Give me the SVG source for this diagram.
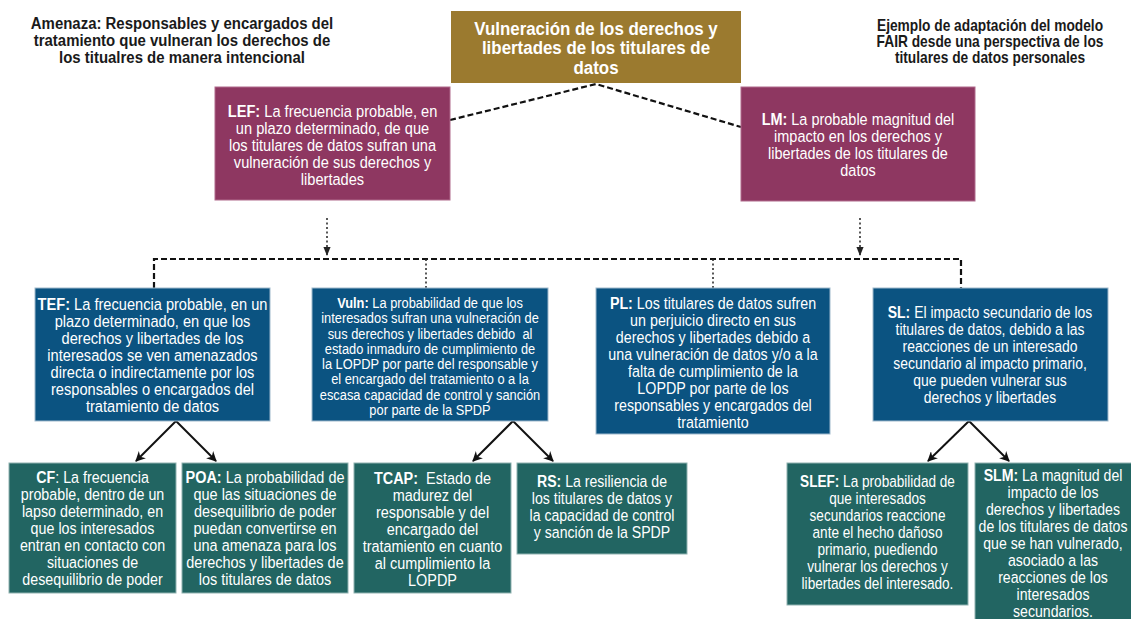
<svg xmlns="http://www.w3.org/2000/svg" width="1131" height="619" viewBox="0 0 1131 619">
<defs>
<style>
text{font-family:"Liberation Sans Narrow","Liberation Sans",sans-serif;text-anchor:middle;}
.w{fill:#fff;}
.k{fill:#1a1a1a;font-weight:bold;}
.b{font-weight:bold;}
.gold{fill:#9b7a2f;}
.mar{fill:#8e3761;stroke:#b06a8c;stroke-width:1;}
.blue{fill:#0b5381;stroke:#9fb9cc;stroke-width:1;}
.teal{fill:#226562;stroke:#8fb2b0;stroke-width:1;}
.dash{fill:none;stroke:#111;stroke-width:2.2;stroke-dasharray:6 3;}
.dot{fill:none;stroke:#222;stroke-width:1.5;stroke-dasharray:2 2.5;}
.sol{fill:none;stroke:#111;stroke-width:2;marker-end:url(#ah);}
</style>
<marker id="ah" viewBox="0 0 10 10" refX="9" refY="5" markerWidth="5" markerHeight="5" orient="auto">
<path d="M0,0 L10,5 L0,10 L3,5 Z" fill="#111"/>
</marker>
<marker id="ahs" viewBox="0 0 10 10" refX="9" refY="5" markerWidth="6" markerHeight="6" orient="auto">
<path d="M0,1 L10,5 L0,9 Z" fill="#222"/>
</marker>
</defs>
<rect width="1131" height="619" fill="#fff"/>

<g id="connectors">
<path class="dash" d="M450,120 L596,84 L741,127"/>
<path class="dot" d="M327,218 L327,255" marker-end="url(#ahs)"/>
<path class="dot" d="M860,218 L860,255" marker-end="url(#ahs)"/>
<path class="dash" d="M154,288 L154,259 L961,259 L961,288"/>
<path class="dot" d="M426,259 L426,288 M713,259 L713,288"/>
<path class="sol" d="M176,421 L136,461"/>
<path class="sol" d="M176,421 L216,461"/>
<path class="sol" d="M513,421 L473,461"/>
<path class="sol" d="M513,421 L553,461"/>
<path class="sol" d="M969,421 L928,461"/>
<path class="sol" d="M969,421 L1009,461"/>
</g>

<g id="note-left">
<g transform="translate(182,0) scale(0.88,1)">
<text class="k" font-size="17" x="0" y="29">Amenaza: Responsables y encargados del</text>
<text class="k" font-size="17" x="0" y="46">tratamiento que vulneran los derechos de</text>
<text class="k" font-size="17" x="0" y="63">los titualres de manera intencional</text>
</g>
</g>

<g id="note-right">
<g transform="translate(990,0) scale(0.86,1)">
<text class="k" font-size="16" x="0" y="31">Ejemplo de adaptación del modelo</text>
<text class="k" font-size="16" x="0" y="47">FAIR desde una perspectiva de los</text>
<text class="k" font-size="16" x="0" y="63">titulares de datos personales</text>
</g>
</g>

<g id="title">
<rect class="gold" x="451" y="11" width="290" height="72"/>
<g transform="translate(596,0) scale(0.89,1)">
<text class="w b" font-size="19" x="0" y="35">Vulneración de los derechos y</text>
<text class="w b" font-size="19" x="0" y="54.5">libertades de los titulares de</text>
<text class="w b" font-size="19" x="0" y="74">datos</text>
</g>
</g>

<g id="LEF">
<rect class="mar" x="215" y="87" width="235" height="113"/>
<g transform="translate(332.5,0) scale(0.86,1)">
<text class="w" font-size="17" x="0" y="117"><tspan class="b">LEF:</tspan> La frecuencia probable, en</text>
<text class="w" font-size="17" x="0" y="134">un plazo determinado, de que</text>
<text class="w" font-size="17" x="0" y="151">los titulares de datos sufran una</text>
<text class="w" font-size="17" x="0" y="168">vulneración de sus derechos y</text>
<text class="w" font-size="17" x="0" y="185">libertades</text>
</g>
</g>

<g id="LM">
<rect class="mar" x="741" y="87" width="234" height="114"/>
<g transform="translate(858,0) scale(0.85,1)">
<text class="w" font-size="17" x="0" y="125"><tspan class="b">LM:</tspan> La probable magnitud del</text>
<text class="w" font-size="17" x="0" y="142">impacto en los derechos y</text>
<text class="w" font-size="17" x="0" y="159">libertades de los titulares de</text>
<text class="w" font-size="17" x="0" y="176">datos</text>
</g>
</g>

<g id="TEF">
<rect class="blue" x="35" y="288" width="235" height="133"/>
<g transform="translate(152.5,0) scale(0.86,1)">
<text class="w" font-size="17" x="0" y="310"><tspan class="b">TEF:</tspan> La frecuencia probable, en un</text>
<text class="w" font-size="17" x="0" y="327">plazo determinado, en que los</text>
<text class="w" font-size="17" x="0" y="344">derechos y libertades de los</text>
<text class="w" font-size="17" x="0" y="361">interesados se ven amenazados</text>
<text class="w" font-size="17" x="0" y="378">directa o indirectamente por los</text>
<text class="w" font-size="17" x="0" y="395">responsables o encargados del</text>
<text class="w" font-size="17" x="0" y="412">tratamiento de datos</text>
</g>
</g>

<g id="Vuln">
<rect class="blue" x="312" y="288" width="236" height="133"/>
<g transform="translate(430,0) scale(0.84,1)">
<text class="w" font-size="15.3" x="0" y="308"><tspan class="b">Vuln:</tspan> La probabilidad de que los</text>
<text class="w" font-size="15.3" x="0" y="323.3">interesados sufran una vulneración de</text>
<text class="w" font-size="15.3" x="0" y="338.6" xml:space="preserve">sus derechos y libertades debido  al</text>
<text class="w" font-size="15.3" x="0" y="353.9">estado inmaduro de cumplimiento de</text>
<text class="w" font-size="15.3" x="0" y="369.2">la LOPDP por parte del responsable y</text>
<text class="w" font-size="15.3" x="0" y="384.5">el encargado del tratamiento o a la</text>
<text class="w" font-size="15.3" x="0" y="399.8">escasa capacidad de control y sanción</text>
<text class="w" font-size="15.3" x="0" y="415">por parte de la SPDP</text>
</g>
</g>

<g id="PL">
<rect class="blue" x="596" y="288" width="234" height="146"/>
<g transform="translate(713,0) scale(0.84,1)">
<text class="w" font-size="17" x="0" y="309"><tspan class="b">PL:</tspan> Los titulares de datos sufren</text>
<text class="w" font-size="17" x="0" y="326">un perjuicio directo en sus</text>
<text class="w" font-size="17" x="0" y="343">derechos y libertades debido a</text>
<text class="w" font-size="17" x="0" y="360">una vulneración de datos y/o a la</text>
<text class="w" font-size="17" x="0" y="377">falta de cumplimiento de la</text>
<text class="w" font-size="17" x="0" y="394">LOPDP por parte de los</text>
<text class="w" font-size="17" x="0" y="411">responsables y encargados del</text>
<text class="w" font-size="17" x="0" y="428">tratamiento</text>
</g>
</g>

<g id="SL">
<rect class="blue" x="873" y="288" width="235" height="133"/>
<g transform="translate(990,0) scale(0.82,1)">
<text class="w" font-size="17" x="0" y="318"><tspan class="b">SL:</tspan> El impacto secundario de los</text>
<text class="w" font-size="17" x="0" y="335">titulares de datos, debido a las</text>
<text class="w" font-size="17" x="0" y="352">reacciones de un interesado</text>
<text class="w" font-size="17" x="0" y="369">secundario al impacto primario,</text>
<text class="w" font-size="17" x="0" y="386">que pueden vulnerar sus</text>
<text class="w" font-size="17" x="0" y="403">derechos y libertades</text>
</g>
</g>

<g id="CF">
<rect class="teal" x="9" y="463" width="167" height="130"/>
<g transform="translate(92.5,0) scale(0.84,1)">
<text class="w" font-size="17" x="0" y="483"><tspan class="b">CF</tspan>: La frecuencia</text>
<text class="w" font-size="17" x="0" y="500">probable, dentro de un</text>
<text class="w" font-size="17" x="0" y="517">lapso determinado, en</text>
<text class="w" font-size="17" x="0" y="534">que los interesados</text>
<text class="w" font-size="17" x="0" y="551">entran en contacto con</text>
<text class="w" font-size="17" x="0" y="568">situaciones de</text>
<text class="w" font-size="17" x="0" y="585">desequilibrio de poder</text>
</g>
</g>

<g id="POA">
<rect class="teal" x="182" y="463" width="166" height="130"/>
<g transform="translate(265,0) scale(0.85,1)">
<text class="w" font-size="17" x="0" y="483"><tspan class="b">POA:</tspan> La probabilidad de</text>
<text class="w" font-size="17" x="0" y="500">que las situaciones de</text>
<text class="w" font-size="17" x="0" y="517">desequilibrio de poder</text>
<text class="w" font-size="17" x="0" y="534">puedan convertirse en</text>
<text class="w" font-size="17" x="0" y="551">una amenaza para los</text>
<text class="w" font-size="17" x="0" y="568">derechos y libertades de</text>
<text class="w" font-size="17" x="0" y="585">los titulares de datos</text>
</g>
</g>

<g id="TCAP">
<rect class="teal" x="354" y="463" width="157" height="130"/>
<g transform="translate(432.5,0) scale(0.85,1)">
<text class="w" font-size="17" x="0" y="484" xml:space="preserve"><tspan class="b">TCAP:</tspan>  Estado de</text>
<text class="w" font-size="17" x="0" y="501">madurez del</text>
<text class="w" font-size="17" x="0" y="518">responsable y del</text>
<text class="w" font-size="17" x="0" y="535">encargado del</text>
<text class="w" font-size="17" x="0" y="552">tratamiento en cuanto</text>
<text class="w" font-size="17" x="0" y="569">al cumplimiento la</text>
<text class="w" font-size="17" x="0" y="586">LOPDP</text>
</g>
</g>

<g id="RS">
<rect class="teal" x="517" y="463" width="170" height="91"/>
<g transform="translate(602,0) scale(0.83,1)">
<text class="w" font-size="17" x="0" y="487"><tspan class="b">RS:</tspan> La resiliencia de</text>
<text class="w" font-size="17" x="0" y="504">los titulares de datos y</text>
<text class="w" font-size="17" x="0" y="521">la capacidad de control</text>
<text class="w" font-size="17" x="0" y="538">y sanción de la SPDP</text>
</g>
</g>

<g id="SLEF">
<rect class="teal" x="787" y="463" width="181" height="142"/>
<g transform="translate(877.5,0) scale(0.8,1)">
<text class="w" font-size="17" x="0" y="487"><tspan class="b">SLEF:</tspan> La probabilidad de</text>
<text class="w" font-size="17" x="0" y="504">que interesados</text>
<text class="w" font-size="17" x="0" y="521">secundarios reaccione</text>
<text class="w" font-size="17" x="0" y="538">ante el hecho dañoso</text>
<text class="w" font-size="17" x="0" y="555">primario, puediendo</text>
<text class="w" font-size="17" x="0" y="572">vulnerar los derechos y</text>
<text class="w" font-size="17" x="0" y="589">libertades del interesado.</text>
</g>
</g>

<g id="SLM">
<rect class="teal" x="975" y="463" width="160" height="160"/>
<g transform="translate(1053,0) scale(0.83,1)">
<text class="w" font-size="17" x="0" y="481"><tspan class="b">SLM:</tspan> La magnitud del</text>
<text class="w" font-size="17" x="0" y="498">impacto de los</text>
<text class="w" font-size="17" x="0" y="515">derechos y libertades</text>
<text class="w" font-size="17" x="0" y="532">de los titulares de datos</text>
<text class="w" font-size="17" x="0" y="549">que se han vulnerado,</text>
<text class="w" font-size="17" x="0" y="566">asociado a las</text>
<text class="w" font-size="17" x="0" y="583">reacciones de los</text>
<text class="w" font-size="17" x="0" y="600">interesados</text>
<text class="w" font-size="17" x="0" y="617">secundarios.</text>
</g>
</g>
</svg>
